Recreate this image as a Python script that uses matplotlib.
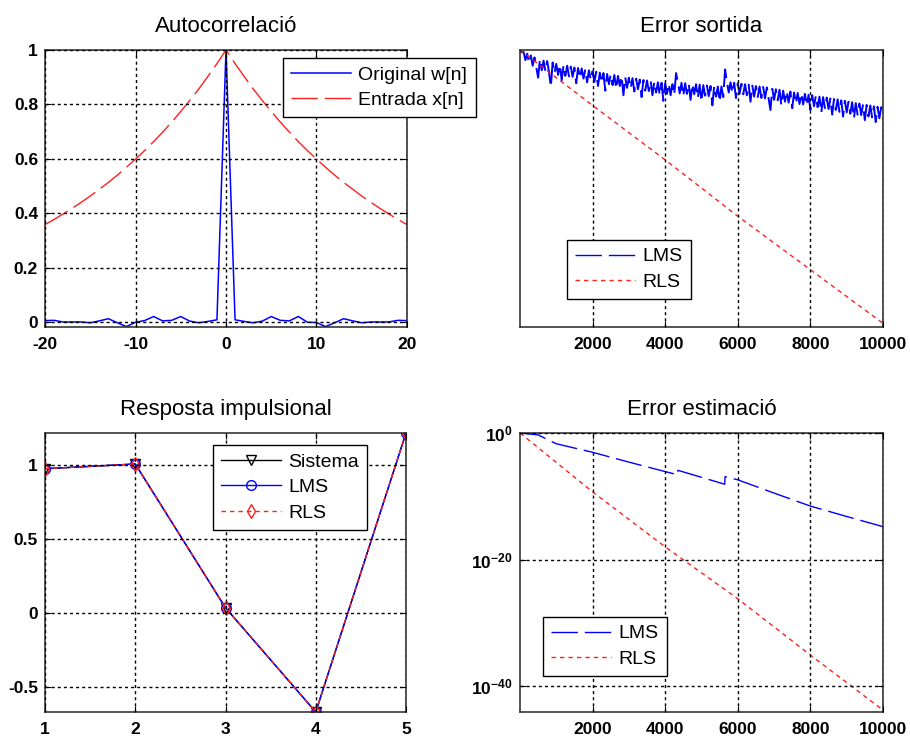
import numpy as np
import matplotlib
matplotlib.use('Agg')
import matplotlib.pyplot as plt
from matplotlib.ticker import NullLocator

plt.rcParams['font.family'] = ['Liberation Sans', 'DejaVu Sans']
plt.rcParams['axes.unicode_minus'] = False
plt.rcParams['lines.scale_dashes'] = False

# --- Autocorrelacio (lags -20..20) ---
lags = np.arange(-20, 21)
w_corr = [0.005, 0.006, 0.0, 0.0, 0.0, -0.003, 0.004, 0.012, -0.003, -0.017,
          -0.001, 0.005, 0.02, 0.004, 0.006, 0.02, 0.003, -0.003, 0.002, 0.008,
          1.0,
          0.008, 0.002, -0.003, 0.003, 0.02, 0.006, 0.004, 0.02, -0.001, -0.002,
          -0.017, -0.003, 0.012, 0.004, -0.003, 0.0, 0.0, 0.0, 0.006, 0.005]
x_half = [1.000, 0.950, 0.903, 0.857, 0.815, 0.774, 0.735, 0.698, 0.663, 0.630,
          0.599, 0.569, 0.540, 0.513, 0.488, 0.463, 0.440, 0.418, 0.397, 0.377, 0.358]
x_corr = x_half[:0:-1] + x_half

# --- Error sortida (log10 of error, every 50 iterations) ---
iters = np.arange(0, 10001, 50)
iters[0] = 1
lms_out = [0.0, -0.25, -0.2, -1.1, -0.4, -1.4, -0.6, -1.7, -0.8, -1.9,
           -3.0, -1.0, -2.2, -1.15, -2.3, -1.2, -2.4, -4.0, -1.35, -2.5,
           -1.5, -2.7, -1.6, -3.3, -1.65, -2.8, -1.7, -2.85, -1.8, -2.9,
           -1.9, -3.6, -1.95, -3.05, -2.0, -3.1, -2.1, -3.5, -2.2, -3.25,
           -2.3, -3.45, -2.35, -3.9, -2.45, -3.55, -2.5, -4.4, -2.6, -3.7,
           -2.65, -3.8, -2.7, -4.2, -2.8, -3.9, -2.85, -4.9, -2.95, -4.1,
           -3.0, -4.15, -3.05, -4.5, -3.1, -4.25, -3.2, -5.1, -3.25, -4.4,
           -3.3, -4.45, -3.35, -4.9, -3.45, -4.6, -3.5, -4.9, -3.55, -5.5,
           -3.6, -4.75, -3.65, -4.9, -3.7, -4.85, -2.5, -3.5, -4.7, -3.55,
           -5.0, -3.6, -4.75, -3.65, -5.4, -3.7, -4.8, -3.7, -5.2, -3.75,
           -5.6, -3.8, -4.95, -3.85, -5.0, -3.9, -6.0, -3.9, -5.05, -3.95,
           -5.6, -3.95, -5.1, -2.1, -3.45, -4.6, -3.5, -4.65, -3.55, -5.2,
           -3.6, -4.75, -3.65, -4.8, -3.7, -4.9, -3.75, -5.6, -3.85, -5.05,
           -3.9, -5.1, -3.95, -5.2, -4.0, -5.25, -4.05, -5.3, -6.5, -4.2,
           -5.4, -4.25, -5.45, -4.3, -6.0, -4.4, -5.6, -4.45, -5.7, -4.5,
           -6.3, -4.6, -5.8, -4.65, -5.85, -4.7, -5.9, -4.75, -6.0, -4.85,
           -6.5, -4.9, -6.1, -4.95, -6.2, -5.05, -6.8, -5.1, -6.3, -5.15,
           -6.4, -5.25, -7.0, -5.3, -6.5, -5.35, -6.7, -5.45, -7.2, -5.5,
           -6.75, -5.6, -6.9, -5.65, -7.4, -5.75, -7.0, -5.8, -7.05, -5.9,
           -7.6, -5.95, -7.2, -6.0, -7.3, -6.1, -7.8, -6.15, -7.4, -6.2,
           -6.6]
rls_out_x = [1, 2000, 4000, 6000, 8000, 10000]
rls_out = [0.0, -6.0, -11.9, -18.0, -23.8, -29.6]

# --- Resposta impulsional ---
taps = [1, 2, 3, 4, 5]
h_sys = [0.978, 1.01, 0.036, -0.67, 1.22]
h_lms = [0.978, 1.01, 0.036, -0.67, 1.22]
h_rls = [0.978, 1.01, 0.036, -0.67, 1.22]

# --- Error estimacio (log10) ---
lms_est_x = [1, 500, 1000, 2000, 3000, 4000, 4340, 4350, 5000, 5640, 5650,
             6000, 7000, 8000, 9000, 10000]
lms_est = [0.0, -0.3, -1.7, -3.05, -4.6, -6.1, -6.6, -5.9, -7.0, -8.1, -6.9,
           -7.4, -9.5, -11.55, -13.2, -14.8]
rls_est_x = [1, 2000, 4000, 6000, 8000, 10000]
rls_est = [0.0, -9.3, -18.0, -26.2, -35.1, -43.8]

BLUE = '#0000ff'
RED = '#ff2020'
GRID = dict(color='k', linestyle=(0, (2.2, 2.2)), linewidth=1.0)
LONG = (0, (19, 5))
DOT = (0, (3.2, 2.9))


def style(ax):
    for s in ax.spines.values():
        s.set_linewidth(1.1)
        s.set_color('#262626')
    ax.tick_params(direction='in', length=4, width=0.8, top=True, right=True,
                   labelsize=12.5, pad=5)
    ax.tick_params(axis='x', pad=7)
    ax.set_axisbelow(False)


def legend(ax, loc, anchor):
    leg = ax.legend(loc=loc, bbox_to_anchor=anchor, borderaxespad=0,
                    fontsize=14, handlelength=3.1, handletextpad=0.37,
                    labelspacing=0.4, borderpad=0.42, fancybox=False,
                    framealpha=1, edgecolor='k')
    leg.get_frame().set_linewidth(1.0)
    return leg


fig = plt.figure(figsize=(9.1, 7.4), dpi=100)
W, H = 910, 740
ax1 = fig.add_axes([45 / W, 1 - 327 / H, 362 / W, 277 / H])
ax2 = fig.add_axes([520 / W, 1 - 327 / H, 363 / W, 277 / H])
ax3 = fig.add_axes([45 / W, 1 - 712 / H, 361 / W, 279 / H])
ax4 = fig.add_axes([520 / W, 1 - 712 / H, 363 / W, 279 / H])

# Autocorrelacio
ax1.plot(lags, w_corr, color=BLUE, lw=1.1, label='Original w[n]')
ax1.plot(lags, x_corr, color=RED, lw=1.0, linestyle=LONG, label='Entrada x[n]')
ax1.set_xlim(-20, 20)
ax1.set_ylim(-0.0185, 1.0)
ax1.set_xticks([-20, -10, 0, 10, 20], ['-20', '-10', '0', '10', '20'], fontweight='bold')
ax1.set_yticks([0, 0.2, 0.4, 0.6, 0.8, 1], ['0', '0.2', '0.4', '0.6', '0.8', '1'], fontweight='bold')
ax1.grid(True, **GRID)
style(ax1)
ax1.set_title('Autocorrelació', fontsize=16, pad=13)
legend(ax1, 'upper left', (0.657, 0.971))

# Error sortida
ax2.plot(iters, 10.0 ** np.array(lms_out), color=BLUE, lw=1.4, linestyle=LONG, label='LMS')
ax2.plot(rls_out_x, 10.0 ** np.array(rls_out), color=RED, lw=1.0, linestyle=DOT, label='RLS')
ax2.set_yscale('log')
ax2.set_xlim(1, 10000)
ax2.set_ylim(1e-30, 1)
ax2.set_xticks([2000, 4000, 6000, 8000, 10000], ['2000', '4000', '6000', '8000', '10000'],
               fontweight='bold')
ax2.yaxis.set_major_locator(NullLocator())
ax2.yaxis.set_minor_locator(NullLocator())
ax2.grid(True, axis='x', **GRID)
style(ax2)
ax2.set_title('Error sortida', fontsize=16, pad=13)
leg2 = legend(ax2, 'lower left', (0.129, 0.101))
leg2.get_lines()[0].set_linewidth(1.0)

# Resposta impulsional
ax3.plot(taps, h_sys, color='k', lw=1.0, marker='v', ms=7, mfc='none', mew=1.0, label='Sistema')
ax3.plot(taps, h_lms, color=BLUE, lw=1.0, marker='o', ms=7, mfc='none', mew=1.0, label='LMS')
ax3.plot(taps, h_rls, color=RED, lw=1.0, linestyle=DOT, marker='d', ms=7, mfc='none',
         mew=1.0, label='RLS')
ax3.set_xlim(1, 5)
ax3.set_ylim(min(h_sys), max(h_sys))
ax3.set_xticks(taps, ['1', '2', '3', '4', '5'], fontweight='bold')
ax3.set_yticks([-0.5, 0, 0.5, 1], ['-0.5', '0', '0.5', '1'], fontweight='bold')
ax3.grid(True, **GRID)
style(ax3)
ax3.set_title('Resposta impulsional', fontsize=16, pad=13)
legend(ax3, 'upper left', (0.465, 0.957))

# Error estimacio
ax4.plot(lms_est_x, 10.0 ** np.array(lms_est), color=BLUE, lw=1.0, linestyle=LONG, label='LMS')
ax4.plot(rls_est_x, 10.0 ** np.array(rls_est), color=RED, lw=1.0, linestyle=DOT, label='RLS')
ax4.set_yscale('log')
ax4.set_xlim(1, 10000)
ax4.set_ylim(10 ** -44.1, 1)
ax4.set_xticks([2000, 4000, 6000, 8000, 10000], ['2000', '4000', '6000', '8000', '10000'],
               fontweight='bold')
ax4.set_yticks([1, 1e-20, 1e-40], [r'$\mathregular{10^{0}}$', r'$\mathregular{10^{-20}}$',
                                  r'$\mathregular{10^{-40}}$'], fontweight='bold')
ax4.yaxis.set_minor_locator(NullLocator())
ax4.grid(True, **GRID)
style(ax4)
ax4.set_title('Error estimació', fontsize=16, pad=13)
legend(ax4, 'lower left', (0.063, 0.129))

fig.savefig('out.png', dpi=100, facecolor='white')
